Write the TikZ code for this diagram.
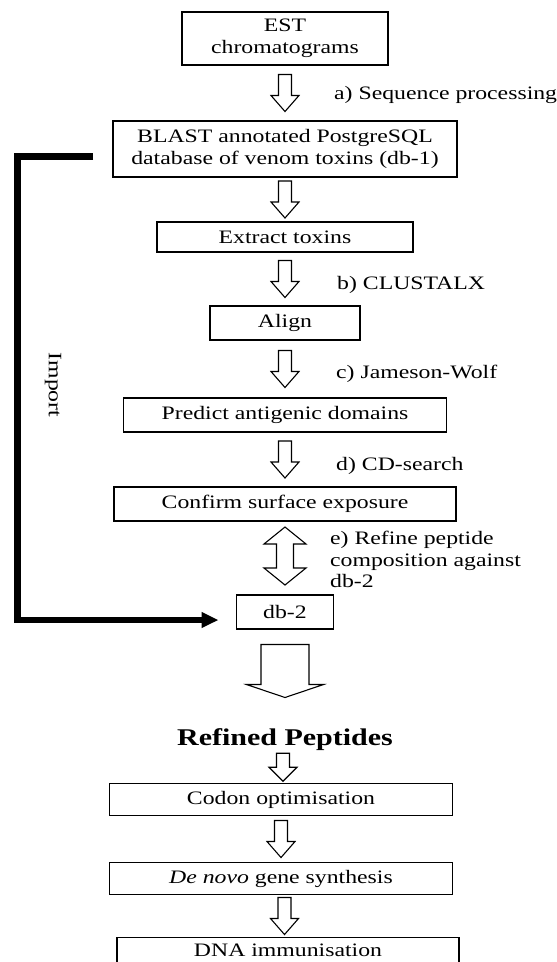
\documentclass[tikz,border=0pt]{standalone}
\usepackage{fontspec}
\setmainfont{Liberation Serif}[FakeStretch=1.25]
\usetikzlibrary{arrows.meta,positioning,calc}

\tikzset{
  downarrow/.pic={
    \draw[line width=1.1pt,fill=white] (-6.5,18.5) -- (6.5,18.5) -- (6.5,-2.5) -- (14,-2.5)
      -- (0,-18.5) -- (-14,-2.5) -- (-6.5,-2.5) -- cycle;
  },
  shortarrow/.pic={
    \draw[line width=1.1pt,fill=white] (-6.5,14) -- (6.5,14) -- (6.5,0) -- (14,0)
      -- (0,-14) -- (-14,0) -- (-6.5,0) -- cycle;
  },
  bigarrow/.pic={
    \draw[line width=1.1pt,fill=white] (-24,26.5) -- (24,26.5) -- (24,-13.5) -- (38.5,-13.5)
      -- (0,-26.5) -- (-38.5,-13.5) -- (-24,-13.5) -- cycle;
  },
  bothways/.pic={
    \draw[line width=1.1pt,fill=white] (0,29) -- (21,12) -- (8.5,12) -- (8.5,-12) -- (21,-12)
      -- (0,-29) -- (-21,-12) -- (-8.5,-12) -- (-8.5,12) -- (-21,12) -- cycle;
  }
}

\begin{document}
\begin{tikzpicture}[
    x=1pt,y=1pt,
    box/.style={
      draw,
      line width=1.3pt,
      align=center,
      inner sep=0pt,
      outer sep=0pt,
      minimum height=34pt,
      font=\fontsize{19}{21.5}\selectfont
    },
    lbl/.style={anchor=west,align=left,inner sep=0pt,font=\fontsize{19}{21.5}\selectfont},
    importline/.style={-{Triangle[length=17pt,width=15pt]},line width=6.5pt}
  ]
  \useasboundingbox (0,0) rectangle (557,-962);

  \node[box,minimum width=206pt,minimum height=53pt] (est) at (285,-38.5) {EST\\chromatograms};
  \node[box,minimum width=344pt,minimum height=56pt,below=56pt of est] (blast)
    {BLAST annotated PostgreSQL\\database of venom toxins (db-1)};
  \node[box,minimum width=256pt,minimum height=30pt,below=45pt of blast] (extract) {Extract toxins};
  \node[box,minimum width=150pt,below=54pt of extract] (align) {Align};
  \node[box,minimum width=323pt,below=58pt of align] (predict) {Predict antigenic domains};
  \node[box,minimum width=342pt,below=55pt of predict] (confirm) {Confirm surface exposure};
  \node[box,minimum width=97pt,below=74pt of confirm] (db2) {db-2};
  \node[inner sep=0pt,outer sep=0pt,font=\fontsize{24}{28}\selectfont\bfseries,below=100pt of db2] (refined) {Refined Peptides};
  \node[box,minimum width=343pt,minimum height=32pt,below=32.5pt of refined,xshift=-4pt] (codon) {Codon optimisation};
  \node[box,minimum width=343pt,minimum height=32pt,below=47pt of codon] (denovo) {\textit{De novo} gene synthesis};
  \node[box,minimum width=342pt,minimum height=0pt,inner ysep=6pt,text height=13pt,text depth=14pt,
    below=43pt of denovo,xshift=7pt] (dna) {DNA immunisation};

  % block arrows between the steps
  \coordinate (sa) at ($(est.south)!0.5!(blast.north)$);
  \coordinate (sb) at ($(extract.south)!0.5!(align.north)$);
  \coordinate (sc) at ($(align.south)!0.5!(predict.north)$);
  \coordinate (sd) at ($(predict.south)!0.5!(confirm.north)$);
  \coordinate (se) at ($(confirm.south)!0.5!(db2.north)$);
  \pic at (sa) {downarrow};
  \pic at ($(blast.south)!0.5!(extract.north)$) {downarrow};
  \pic at (sb) {downarrow};
  \pic at (sc) {downarrow};
  \pic at (sd) {downarrow};
  \pic at ($(se)+(0,2)$) {bothways};
  \pic at ($(db2.south)+(0,-42)$) {bigarrow};
  \pic at ($(refined.south)!0.5!(codon.north)$) {shortarrow};
  \pic at ($(codon.south)!0.5!(denovo.north)$) {downarrow};
  \pic at ($(denovo.south)!0.5!(dna.north)$) {downarrow};

  \node[lbl,right=49pt of sa,yshift=-2pt] (la) {a) Sequence processing};
  \node[lbl,right=52pt of sb,yshift=-6pt] (lb) {b) CLUSTALX};
  \node[lbl,right=51pt of sc,yshift=-4.5pt] (lc) {c) Jameson-Wolf};
  \node[lbl,right=51pt of sd,yshift=-6.5pt] (ld) {d) CD-search};
  \node[lbl,right=45pt of se,yshift=-1.5pt] (le) {e) Refine peptide\\composition against\\db-2};

  % import of db-1 into db-2
  \coordinate (imp) at ($(blast.west)+(-20,-7.5)$);
  \draw[importline] (imp) -- ++(-75.5,0) |- ([xshift=-18pt,yshift=-8pt]db2.west);
  \node[font=\fontsize{19}{21.5}\selectfont,rotate=-90] (import) at (53,-385) {Import};
\end{tikzpicture}
\end{document}
